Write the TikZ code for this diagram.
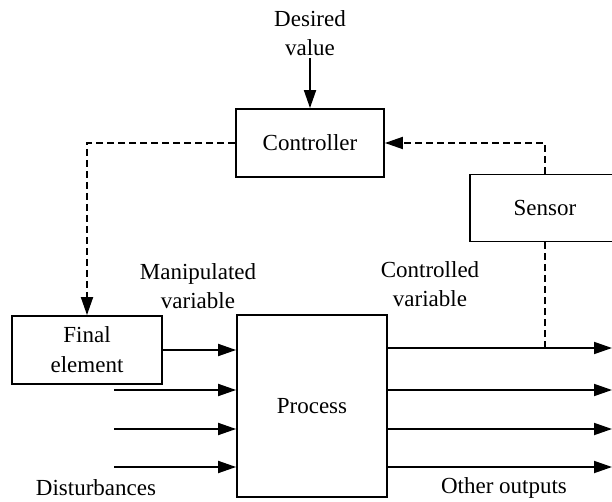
\documentclass[tikz,border=0pt]{standalone}
\usepackage{fontspec}
\setmainfont{Liberation Serif}
\usetikzlibrary{arrows.meta}
\begin{document}
\begin{tikzpicture}[x=1pt, y=-1pt,
    block/.style={draw, line width=1.8pt, inner sep=0pt, align=center, font=\fontsize{23}{30}\selectfont},
    txt/.style={align=center, inner sep=2pt, font=\fontsize{23}{29}\selectfont},
    arrow/.style={-{Triangle[length=18pt, width=12pt]}, line width=1.8pt},
    dasharrow/.style={arrow, dash pattern=on 7pt off 4pt},
    dashline/.style={line width=1.8pt, dash pattern=on 7pt off 4pt}
]
    \useasboundingbox (0,0) rectangle (612,502);

    \node[txt] (desired) at (310,33) {Desired\\value};
    \node[block, minimum width=148pt, minimum height=68pt] (ctrl) at (310,143) {Controller};
    \node[block, minimum width=150pt, minimum height=67pt] (sensor) at (545,208) {Sensor};
    \node[block, minimum width=150pt, minimum height=68pt] (final) at (87,350) {Final\\element};
    \node[block, minimum width=150pt, minimum height=182pt] (process) at (312,406) {Process};

    \node[txt] (manip) at (198,286) {Manipulated\\variable};
    \node[txt] (contr) at (430,284) {Controlled\\variable};
    \node[txt] (dist) at (96,488) {Disturbances};
    \node[txt] (other) at (504,488) {Other outputs};

    \coordinate (in2) at (114,390);
    \coordinate (in3) at (114,429);
    \coordinate (in4) at (114,467);
    \coordinate (out1) at (612,348);
    \coordinate (out2) at (612,390);
    \coordinate (out3) at (612,429);
    \coordinate (out4) at (612,467);
    \coordinate (tap) at (sensor.south |- out1);

    \draw[arrow] (desired) -- (ctrl);
    \draw[dasharrow] (ctrl.west) -| (final.north);
    \draw[dasharrow] (sensor.north) |- (ctrl.east);
    \draw[dashline] (tap) -- (sensor.south);

    \draw[arrow] (final.east) -- (final.east -| process.west);
    \draw[arrow] (in2) -- (in2 -| process.west);
    \draw[arrow] (in3) -- (in3 -| process.west);
    \draw[arrow] (in4) -- (in4 -| process.west);

    \draw[arrow] (out1 -| process.east) -- (out1);
    \draw[arrow] (out2 -| process.east) -- (out2);
    \draw[arrow] (out3 -| process.east) -- (out3);
    \draw[arrow] (out4 -| process.east) -- (out4);
\end{tikzpicture}
\end{document}
